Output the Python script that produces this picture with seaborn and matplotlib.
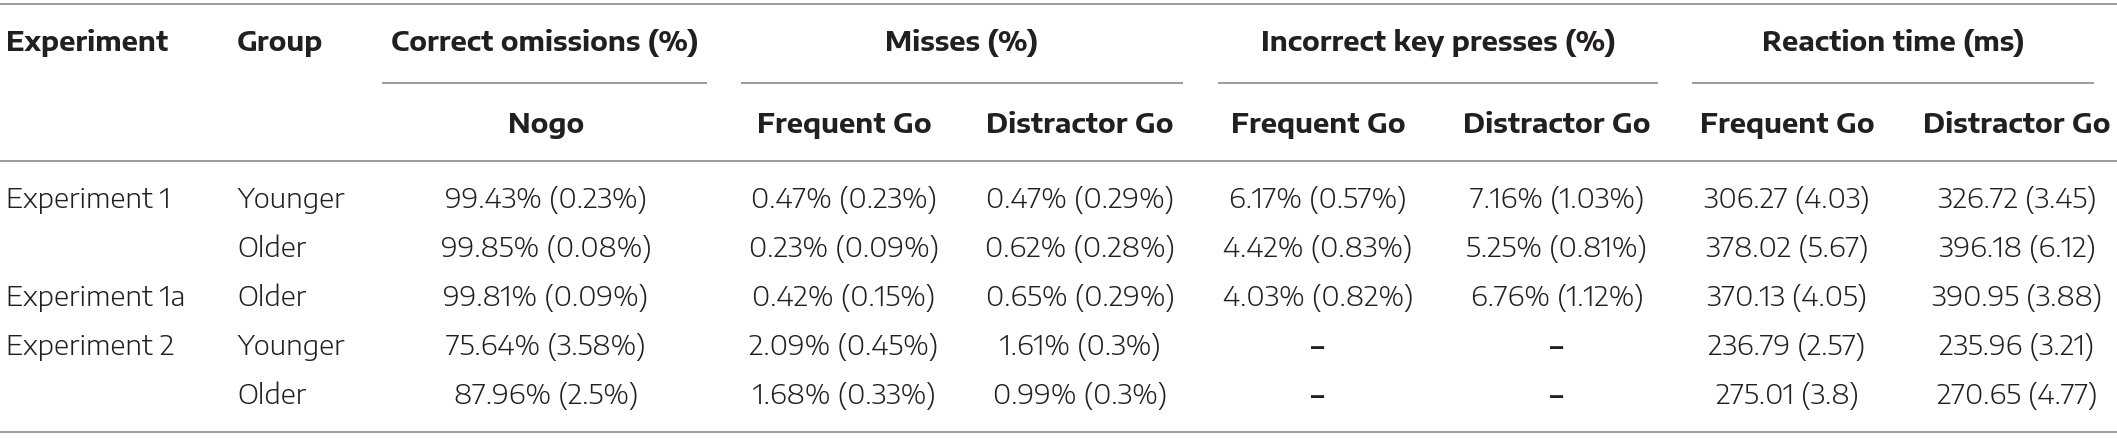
import matplotlib
matplotlib.use("Agg")
import matplotlib.pyplot as plt
import seaborn as sns

# ---------------- data ----------------
experiments = ["Experiment 1", "", "Experiment 1a", "Experiment 2", ""]
groups = ["Younger", "Older", "Older", "Younger", "Older"]

nogo_correct_mean = [99.43, 99.85, 99.81, 75.64, 87.96]
nogo_correct_se = [0.23, 0.08, 0.09, 3.58, 2.5]

misses_freq_mean = [0.47, 0.23, 0.42, 2.09, 1.68]
misses_freq_se = [0.23, 0.09, 0.15, 0.45, 0.33]
misses_dist_mean = [0.47, 0.62, 0.65, 1.61, 0.99]
misses_dist_se = [0.29, 0.28, 0.29, 0.3, 0.3]

incorrect_freq_mean = [6.17, 4.42, 4.03, None, None]
incorrect_freq_se = [0.57, 0.83, 0.82, None, None]
incorrect_dist_mean = [7.16, 5.25, 6.76, None, None]
incorrect_dist_se = [1.03, 0.81, 1.12, None, None]

rt_freq_mean = [306.27, 378.02, 370.13, 236.79, 275.01]
rt_freq_se = [4.03, 5.67, 4.05, 2.57, 3.8]
rt_dist_mean = [326.72, 396.18, 390.95, 235.96, 270.65]
rt_dist_se = [3.45, 6.12, 3.88, 3.21, 4.77]

group_headers = ["Correct omissions (%)", "Misses (%)", "Incorrect key presses (%)", "Reaction time (ms)"]
sub_headers = ["Nogo", "Frequent Go", "Distractor Go", "Frequent Go", "Distractor Go", "Frequent Go", "Distractor Go"]
left_headers = ["Experiment", "Group"]

# ---------------- style ----------------
sns.set_theme(style="white")
BODY_FONT = ["Encode Sans Semi Expanded", "DejaVu Sans"]
HEAD_FONT = ["Encode Sans Semi Expanded", "DejaVu Sans"]
plt.rcParams["font.family"] = BODY_FONT
TXT = "#231f20"
RULE = "#808080"

W, H = 2117, 439
fig = plt.figure(figsize=(W / 100, H / 100), dpi=100)
ax = fig.add_axes([0, 0, 1, 1])
ax.set_xlim(0, W)
ax.set_ylim(H, 0)
ax.axis("off")
renderer = fig.canvas.get_renderer()


def fit_size(s, target_px, family, weight):
    t = ax.text(0, 0, s, fontsize=20, family=family, weight=weight)
    w = t.get_window_extent(renderer).width
    t.remove()
    return 20 * target_px / w


body_fs = fit_size("99.43% (0.23%)", 202, BODY_FONT, 300)
head_fs = fit_size("Correct omissions (%)", 309, HEAD_FONT, "bold")

# layout (pixels)
y_head1, y_gline, y_head2, y_mid = 43, 84, 125, 162
row_y = [200, 249, 298, 347, 396]
y_top, y_bot = 5, 433
x_exp, x_group = 6, 237
col_x = [546, 844, 1080, 1318, 1557, 1787, 2017]
group_spans = [(382, 707), (741, 1183), (1218, 1658), (1692, 2094)]


def cell(m, s, pct):
    if m is None:
        return "\u2013"
    return f"{m}% ({s}%)" if pct else f"{m} ({s})"


columns = [
    (nogo_correct_mean, nogo_correct_se, True),
    (misses_freq_mean, misses_freq_se, True),
    (misses_dist_mean, misses_dist_se, True),
    (incorrect_freq_mean, incorrect_freq_se, True),
    (incorrect_dist_mean, incorrect_dist_se, True),
    (rt_freq_mean, rt_freq_se, False),
    (rt_dist_mean, rt_dist_se, False),
]

# rules
ax.hlines([y_top, y_mid, y_bot], 0, W, color=RULE, lw=1.1)
for x0, x1 in group_spans:
    ax.hlines(y_gline, x0, x1, color=RULE, lw=1.1)

# headers
ax.text(x_exp, y_head1, left_headers[0], ha="left", va="center", fontsize=head_fs,
        family=HEAD_FONT, weight="bold", color=TXT)
ax.text(x_group, y_head1, left_headers[1], ha="left", va="center", fontsize=head_fs,
        family=HEAD_FONT, weight="bold", color=TXT)
for (x0, x1), g in zip(group_spans, group_headers):
    ax.text((x0 + x1) / 2, y_head1, g, ha="center", va="center", fontsize=head_fs,
            family=HEAD_FONT, weight="bold", color=TXT)
for x, s in zip(col_x, sub_headers):
    ax.text(x, y_head2, s, ha="center", va="center", fontsize=head_fs,
            family=HEAD_FONT, weight="bold", color=TXT)

# body
for i, y in enumerate(row_y):
    if experiments[i]:
        ax.text(x_exp, y, experiments[i], ha="left", va="center", fontsize=body_fs,
                family=BODY_FONT, weight=300, color=TXT)
    ax.text(x_group, y, groups[i], ha="left", va="center", fontsize=body_fs,
            family=BODY_FONT, weight=300, color=TXT)
    for x, (m, s, pct) in zip(col_x, columns):
        label = cell(m[i], s[i], pct)
        ax.text(x, y, label, ha="center", va="center", fontsize=body_fs,
                family=BODY_FONT, weight=600 if m[i] is None else 300, color=TXT)

fig.savefig("out.png", dpi=100)
